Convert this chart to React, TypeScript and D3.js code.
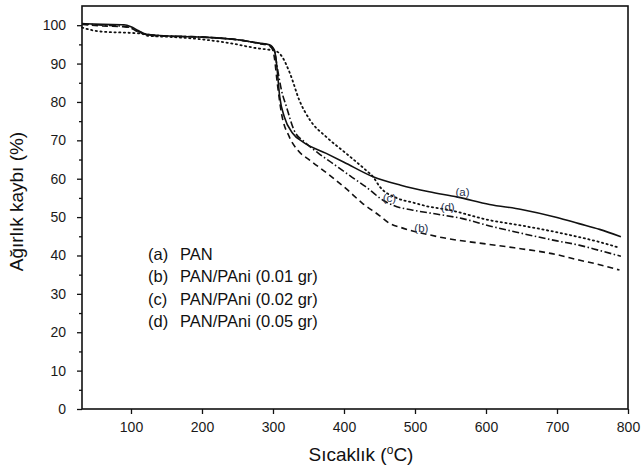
import React, { useEffect, useRef } from 'react';
import * as d3 from 'd3';

// (a) PAN - solid
const tempA = [31, 60, 90, 100, 110, 122, 140, 200, 250, 281, 295, 302, 305, 309.5, 316, 328, 342, 375, 400, 441, 480, 520, 560, 605, 650, 700, 731, 760, 790];
const weightA = [100.4, 100.2, 100.1, 99.6, 98.6, 97.6, 97.3, 96.9, 96.2, 95.3, 94.9, 93.5, 90, 81.3, 76.1, 71.8, 69.6, 66.6, 64.3, 60.5, 58.3, 56.6, 55.2, 53.3, 52, 49.9, 48.3, 46.8, 44.9];

// (b) PAN/PAni 0.01 gr - dashed
const tempB = [31, 60, 90, 100, 110, 122, 140, 200, 250, 281, 295, 300, 302, 306, 312, 323, 335, 352, 380, 403, 426, 450, 464, 480, 492, 510, 540, 600, 640, 700, 731, 760, 788];
const weightB = [100.2, 99.8, 99.6, 99.2, 98.3, 97.5, 97.2, 96.9, 96.2, 95.2, 94.6, 93.5, 91.5, 85, 77, 70.9, 67.4, 64.8, 60.9, 57.4, 53.6, 50.4, 48.4, 47.3, 46.6, 45.8, 44.6, 43, 42, 40.2, 38.8, 37.6, 36.2];

// (c) PAN/PAni 0.02 gr - dash dot
const tempC = [31, 60, 90, 100, 110, 122, 140, 200, 250, 281, 295, 302, 306, 312, 319, 330, 345, 365, 384, 412, 430, 455, 470, 497, 530, 567, 605, 640, 700, 731, 760, 790];
const weightC = [100.3, 100, 99.7, 99.3, 98.4, 97.6, 97.3, 96.9, 96.2, 95.3, 94.8, 93.3, 89, 83, 78.7, 72.5, 69.5, 66.5, 64, 60.3, 58, 54.4, 53, 51.8, 50.8, 49.6, 47.7, 46.2, 43.8, 42.7, 41.3, 39.8];

// (d) PAN/PAni 0.05 gr - dotted
const tempD = [31, 45, 60, 100, 115, 125, 150, 200, 240, 281, 295, 305, 312, 324, 337, 352, 375, 403, 431, 441, 450, 474, 497, 520, 544, 605, 650, 685, 731, 760, 788];
const weightD = [99.4, 98.7, 98.3, 98, 97.8, 97.2, 97, 96.3, 95.3, 93.9, 93.6, 93.2, 92, 87.4, 80.5, 75.3, 70.9, 66.6, 62.2, 60.5, 58, 55, 53.8, 52.7, 52, 49.2, 47.8, 46.6, 44.8, 43.5, 42];

const seriesKeys = ['(a)', '(b)', '(c)', '(d)'];
const seriesNames = ['PAN', 'PAni (0.01 gr)', 'PAN/PAni (0.02 gr)', 'PAN/PAni (0.05 gr)'];
const legendNames = ['PAN', 'PAN/PAni (0.01 gr)', 'PAN/PAni (0.02 gr)', 'PAN/PAni (0.05 gr)'];
const dashes = ['none', '6,4', '7,2.5,1.5,2.5', '1.3,3.4'];

// curve annotation positions, in data units [temp, weight]
const labelTemps = [567, 509, 464, 546];
const labelWeights = [56.6, 47.1, 55.0, 52.6];

const xTicks = [100, 200, 300, 400, 500, 600, 700, 800];
const yTicks = [0, 10, 20, 30, 40, 50, 60, 70, 80, 90, 100];
const yMinorTicks = [5, 15, 25, 35, 45, 55, 65, 75, 85, 95];

const App = () => {
    const svgRef = useRef<SVGSVGElement>(null);
    const width = 641;
    const height = 470;
    const left = 82, right = 628, top = 6, bottom = 409;

    useEffect(() => {
        const svg = d3.select(svgRef.current);
        svg.selectAll('*').remove();

        const x = d3.scaleLinear().domain([31, 800]).range([left, right]);
        const y = d3.scaleLinear().domain([0, 105]).range([bottom, top]);
        const font = 'Liberation Sans, Arial, sans-serif';

        svg.append('rect').attr('width', width).attr('height', height).attr('fill', '#fff');

        // axes
        const yAxis = svg.append('g')
            .attr('transform', `translate(${left},0)`)
            .call(d3.axisLeft(y).tickValues(yTicks).tickSize(5).tickPadding(11));
        const yMinor = svg.append('g')
            .attr('transform', `translate(${left},0)`)
            .call(d3.axisLeft(y).tickValues(yMinorTicks).tickSize(3).tickFormat(() => ''));
        const xAxis = svg.append('g')
            .attr('transform', `translate(0,${bottom})`)
            .call(d3.axisBottom(x).tickValues(xTicks).tickSize(5).tickPadding(8));

        [yAxis, yMinor, xAxis].forEach(g => {
            g.select('.domain').remove();
            g.selectAll('.tick line').attr('stroke', '#111').attr('stroke-width', 1.3);
            g.selectAll('text').attr('font-family', font).attr('font-size', 14).attr('fill', '#1a1a1a');
        });

        // frame
        svg.append('rect')
            .attr('x', left).attr('y', top)
            .attr('width', right - left).attr('height', bottom - top)
            .attr('fill', 'none').attr('stroke', '#111').attr('stroke-width', 1.6);

        // curves
        const series = [
            [tempA, weightA], [tempB, weightB], [tempC, weightC], [tempD, weightD]
        ];
        const line = d3.line<number>()
            .x(d => d)
            .curve(d3.curveMonotoneX);

        series.forEach(([t, w], i) => {
            const pts = t.map((v, j) => [x(v), y(w[j])] as [number, number]);
            svg.append('path')
                .attr('d', d3.line().curve(d3.curveMonotoneX)(pts))
                .attr('fill', 'none')
                .attr('stroke', '#111')
                .attr('stroke-width', i === 3 ? 1.8 : 1.6)
                .attr('stroke-linecap', i === 3 ? 'round' : 'butt')
                .attr('stroke-dasharray', dashes[i]);
        });

        // curve annotations
        seriesKeys.forEach((k, i) => {
            svg.append('text')
                .attr('x', x(labelTemps[i]))
                .attr('y', y(labelWeights[i]))
                .attr('text-anchor', 'middle')
                .attr('dominant-baseline', 'central')
                .attr('font-family', font)
                .attr('font-size', 11.5)
                .attr('fill', '#27334f')
                .text(k);
        });

        // legend
        seriesKeys.forEach((k, i) => {
            const ly = 259.5 + i * 22.6;
            svg.append('text')
                .attr('x', 148).attr('y', ly)
                .attr('font-family', font).attr('font-size', 16.5).attr('fill', '#111')
                .text(k);
            svg.append('text')
                .attr('x', 180).attr('y', ly)
                .attr('font-family', font).attr('font-size', 16.5).attr('fill', '#111')
                .text(legendNames[i]);
        });

        // axis titles
        const xt = svg.append('text')
            .attr('x', (left + right) / 2 + 6)
            .attr('y', 461)
            .attr('text-anchor', 'middle')
            .attr('font-family', font)
            .attr('font-size', 19)
            .attr('fill', '#111');
        xt.append('tspan').text('Sıcaklık (');
        xt.append('tspan').attr('font-size', 12).attr('dy', -7).text('o');
        xt.append('tspan').attr('dy', 7).text('C)');

        svg.append('text')
            .attr('transform', 'translate(23,201.5) rotate(-90)')
            .attr('text-anchor', 'middle')
            .attr('font-family', font)
            .attr('font-size', 19)
            .attr('fill', '#111')
            .text('Ağırlık kaybı (%)');
    }, []);

    return (
        <svg ref={svgRef} width={width} height={height}
            style={{ position: 'absolute', left: 0, top: 0, display: 'block' }}></svg>
    );
};

export default App;
